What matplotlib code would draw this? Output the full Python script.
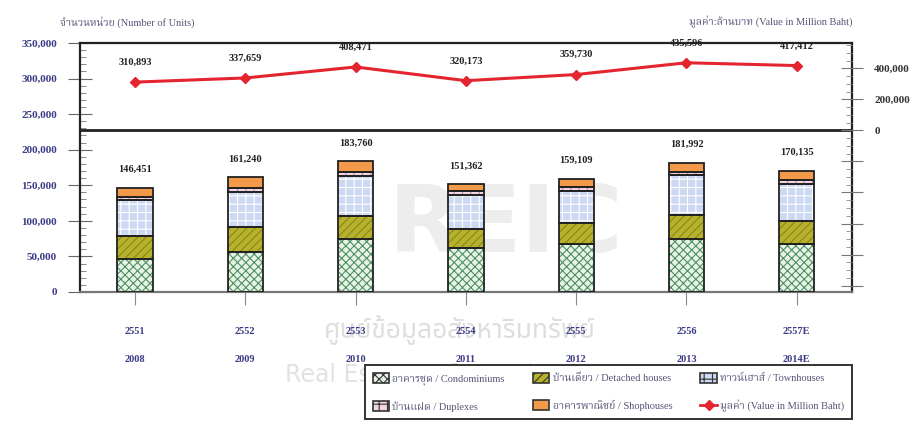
import matplotlib
matplotlib.use("Agg")
import matplotlib.pyplot as plt
from matplotlib.ticker import MultipleLocator, FuncFormatter
from matplotlib.patches import Patch
from matplotlib.lines import Line2D
import numpy as np

# ---- data ----
years_th = ['2551', '2552', '2553', '2554', '2555', '2556', '2557E']
years_ad = ['2008', '2009', '2010', '2011', '2012', '2013', '2014E']
condo = [46000, 56000, 74000, 62000, 67000, 75000, 68000]
detached = [33000, 35000, 33000, 27000, 30000, 33000, 32000]
townhouse = [50000, 50000, 56000, 48000, 45000, 56000, 52000]
duplex = [5000, 5000, 6000, 5000, 5000, 5000, 6000]
shophouse = [12451, 15240, 14760, 9362, 12109, 12992, 12135]
total_units = [146451, 161240, 183760, 151362, 159109, 181992, 170135]
value_mb = [310893, 337659, 408471, 320173, 359730, 435596, 417412]

labels = ['อาคารชุด / Condominiums', 'บ้านเดี่ยว / Detached houses',
          'ทาวน์เฮาส์ / Townhouses', 'บ้านแฝด / Duplexes',
          'อาคารพาณิชย์ / Shophouses', 'มูลค่า (Value in Million Baht)']

SERIF = ['Liberation Serif', 'Noto Serif Thai', 'DejaVu Sans']
SANS_TH = ['DejaVu Sans', 'Noto Sans Thai']
NUM_BLUE = '#3c3c86'
plt.rcParams['hatch.linewidth'] = 0.8

fig = plt.figure(figsize=(9.19, 4.26), dpi=100)
ax = fig.add_axes([0.087, 0.3146, 0.840, 0.5845])

# faint watermark like the source image (kept behind everything)
fig.text(0.55, 0.47, 'REIC', fontsize=66, fontweight='bold', color='#ededed',
         ha='center', va='center', family=SANS_TH, zorder=-2)
fig.text(0.50, 0.225, 'ศูนย์ข้อมูลอสังหาริมทรัพย์', fontsize=19, color='#dedede',
         ha='center', va='center', family=SANS_TH, zorder=-2)
fig.text(0.31, 0.12, 'Real Estate Information Center', fontsize=17,
         color='#e2e2e2', ha='left', va='center', family=SANS_TH, zorder=-2)
ax.patch.set_alpha(0)

x = np.arange(len(years_th))
w = 0.32
series = [
    (condo, '#e6f4e8', '#4f8f5f', 'xxxx'),
    (detached, '#b7b22c', '#8a8620', '////'),
    (townhouse, '#cdd9f2', '#ffffff', '++'),
    (duplex, '#f2d6e4', '#b08aa0', '++'),
    (shophouse, '#f29a4a', '#f29a4a', None),
]
bottom = np.zeros(len(x))
handles = []
for (vals, fc, hc, hatch), lab in zip(series, labels[:5]):
    ax.bar(x, vals, w, bottom=bottom, color=fc, edgecolor=hc, hatch=hatch,
           linewidth=0, zorder=2)
    ax.bar(x, vals, w, bottom=bottom, fill=False, edgecolor='#222222',
           linewidth=1.3, zorder=3)
    handles.append(Patch(facecolor=fc, edgecolor='#333333', hatch=hatch,
                         linewidth=1.2, label=lab))
    bottom += np.array(vals)

for xi, t in zip(x, total_units):
    ax.annotate(f'{t:,}', (xi, t), xytext=(0, 10), textcoords='offset points',
                ha='center', va='bottom', fontsize=7.5, fontweight='bold',
                family=SERIF, color='#222222')

ax.set_xlim(-0.5, len(x) - 0.5)
ax.set_ylim(0, 350000)
ax.yaxis.set_major_locator(MultipleLocator(50000))
ax.yaxis.set_minor_locator(MultipleLocator(10000))
ax.yaxis.set_major_formatter(FuncFormatter(lambda v, p: f'{int(v):,}'))
ax.tick_params(axis='y', which='major', direction='inout', length=17,
               width=0.8, color='#666666', pad=8, labelsize=8,
               labelcolor=NUM_BLUE)
ax.tick_params(axis='y', which='minor', direction='in', length=4,
               width=0.6, color='#777777')
for lab in ax.get_yticklabels():
    lab.set_fontweight('bold')
    lab.set_family(SERIF)

ax.set_xticks(x)
ax.set_xticklabels([f'{a}\n\n{b}' for a, b in zip(years_th, years_ad)],
                   linespacing=1.7)
ax.tick_params(axis='x', direction='out', length=9, width=0.8,
               color='#888888', pad=16, labelsize=7.5, labelcolor=NUM_BLUE)
for lab in ax.get_xticklabels():
    lab.set_fontweight('bold')
    lab.set_family(SERIF)

for s in ['left', 'top', 'right']:
    ax.spines[s].set_linewidth(1.6)
    ax.spines[s].set_color('#222222')
ax.spines['bottom'].set_linewidth(1.6)
ax.spines['bottom'].set_color('#777777')

# right axis for value line
ax2 = ax.twinx()
ax2.set_ylim(-1041000, 563000)
ax2.yaxis.set_major_locator(MultipleLocator(200000))
ax2.yaxis.set_minor_locator(MultipleLocator(50000))
ax2.yaxis.set_major_formatter(FuncFormatter(lambda v, p: f'{int(v):,}' if v >= 0 else ''))
ax2.tick_params(axis='y', which='major', direction='inout', length=16,
                width=0.8, color='#777777', pad=8, labelsize=8,
                labelcolor='#333333')
ax2.tick_params(axis='y', which='minor', direction='in', length=4,
                width=0.6, color='#888888')
for lab in ax2.get_yticklabels():
    lab.set_fontweight('bold')
    lab.set_family(SERIF)
for s in ax2.spines.values():
    s.set_visible(False)

ax2.axhline(0, color='#222222', linewidth=2.0, zorder=1)
ax2.plot(x, value_mb, color='#e4252f', linewidth=2.2, marker='D',
         markersize=5, zorder=4)
for xi, v in zip(x, value_mb):
    ax2.annotate(f'{v:,}', (xi, v), xytext=(0, 11), textcoords='offset points',
                 ha='center', va='bottom', fontsize=7.5, fontweight='bold',
                 family=SERIF, color='#222222')

# axis titles
fig.text(0.065, 0.948, 'จำนวนหน่วย (Number of Units)', fontsize=7.5,
         color='#55557a', family=SERIF, ha='left', va='center')
fig.text(0.928, 0.948, 'มูลค่า:ล้านบาท (Value in Million Baht)', fontsize=7.5,
         color='#55557a', family=SERIF, ha='right', va='center')

# legend: row-major order via column-major list
handles.append(Line2D([], [], color='#e4252f', linewidth=2, marker='D',
                      markersize=5, label=labels[5]))
order = [0, 3, 1, 4, 2, 5]
leg = fig.legend([handles[i] for i in order], [labels[i] for i in order],
                 ncol=3, loc='upper left',
                 bbox_to_anchor=(360 / 919, 1 - 360 / 426),
                 frameon=True, fancybox=False, framealpha=1,
                 handlelength=1.6, handleheight=1.1, handletextpad=0.3,
                 columnspacing=2.7, labelspacing=1.6, borderpad=0.7,
                 prop={'family': SERIF, 'size': 7.5})
leg.get_frame().set_edgecolor('#333333')
leg.get_frame().set_linewidth(1.4)
for t in leg.get_texts():
    t.set_color('#55557a')

fig.savefig('out.png', dpi=100)
